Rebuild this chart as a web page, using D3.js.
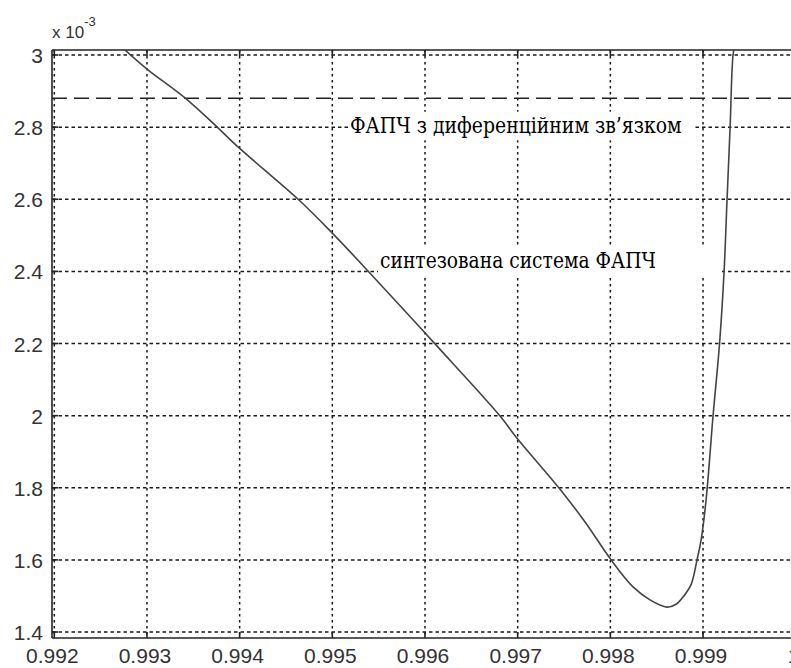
<!DOCTYPE html>
<html>
<head>
<meta charset="utf-8">
<script src="https://cdn.jsdelivr.net/npm/d3@7"></script>
<style>
  html, body { margin: 0; padding: 0; background: #fff; overflow: hidden; }
  svg { display: block; }
  .tick-label { font-family: "Liberation Sans", Arial, sans-serif; font-size: 21px; fill: #333; }
  .note { font-family: "DejaVu Serif", "Liberation Serif", "Times New Roman", Times, serif; fill: #000; }
</style>
</head>
<body>
<svg id="chart" width="791" height="668"></svg>
<script>
// дані
const xTicks = [0.992, 0.993, 0.994, 0.995, 0.996, 0.997, 0.998, 0.999, 1.0];
const xTickLabels = ["0.992", "0.993", "0.994", "0.995", "0.996", "0.997", "0.998", "0.999", "1"];
const yTicks = [1.4, 1.6, 1.8, 2.0, 2.2, 2.4, 2.6, 2.8, 3.0];
const yTickLabels = ["1.4", "1.6", "1.8", "2", "2.2", "2.4", "2.6", "2.8", "3"];

// синтезована система ФАПЧ (x, y·10^-3)
const curveX = [0.992741, 0.993, 0.99341, 0.993766, 0.993982, 0.99464, 0.995, 0.995407,
                0.996108, 0.99681, 0.996982, 0.997457, 0.997727, 0.998008, 0.998245, 0.998428,
                0.998611, 0.998709, 0.998784, 0.998872, 0.998935, 0.998979, 0.999033, 0.999108,
                0.999178, 0.999227, 0.999259, 0.999292, 0.999324, 0.999345];
const curveY = [3.019, 2.961, 2.881, 2.798, 2.745, 2.598, 2.506, 2.395,
                2.199, 1.999, 1.941, 1.796, 1.705, 1.6, 1.525, 1.489,
                1.469, 1.477, 1.497, 1.532, 1.6, 1.655, 1.766, 1.999,
                2.199, 2.398, 2.598, 2.798, 3.0, 3.028];

// ФАПЧ з диференційним зв'язком
const refLevel = 2.88;

const labelTop = "ФАПЧ з диференційним зв’язком";
const labelMid = "синтезована система ФАПЧ";

const svg = d3.select("#chart");

const x = d3.scaleLinear().domain([0.992, 1.0]).range([54.3, 795.7]);
const y = d3.scaleLinear().domain([1.4, 3.0]).range([632, 55]);

const box = { left: 52, top: 50, right: 798, bottom: 638 };

svg.append("defs").append("clipPath").attr("id", "plot-clip")
  .append("rect")
  .attr("x", box.left).attr("y", box.top)
  .attr("width", box.right - box.left).attr("height", box.bottom - box.top);

// сітка
const grid = svg.append("g").attr("stroke", "#1a1a1a").attr("stroke-width", 1.5);
grid.selectAll(".vgrid").data(xTicks).enter().append("line")
  .attr("x1", d => x(d)).attr("x2", d => x(d))
  .attr("y1", box.top).attr("y2", box.bottom)
  .attr("stroke-dasharray", "2.5,3.5");
grid.selectAll(".hgrid").data(yTicks).enter().append("line")
  .attr("x1", box.left).attr("x2", box.right)
  .attr("y1", d => y(d)).attr("y2", d => y(d))
  .attr("stroke-dasharray", "3.5,3");

// рамка і штрихи
const axes = svg.append("g").attr("stroke", "#222").attr("stroke-width", 1.6).attr("fill", "none");
axes.append("line").attr("x1", box.left).attr("x2", box.right).attr("y1", box.top).attr("y2", box.top);
axes.append("line").attr("x1", box.left).attr("x2", box.right).attr("y1", box.bottom).attr("y2", box.bottom);
axes.append("line").attr("x1", box.left).attr("x2", box.left).attr("y1", box.top).attr("y2", box.bottom);
axes.selectAll(".xt").data(xTicks).enter().append("line")
  .attr("x1", d => x(d)).attr("x2", d => x(d))
  .attr("y1", box.bottom).attr("y2", box.bottom - 6);
axes.selectAll(".xt2").data(xTicks).enter().append("line")
  .attr("x1", d => x(d)).attr("x2", d => x(d))
  .attr("y1", box.top).attr("y2", box.top + 6);
axes.selectAll(".yt").data(yTicks).enter().append("line")
  .attr("x1", box.left).attr("x2", box.left + 6)
  .attr("y1", d => y(d)).attr("y2", d => y(d));

// пунктирна лінія рівня
svg.append("line")
  .attr("x1", box.left).attr("x2", box.right)
  .attr("y1", y(refLevel)).attr("y2", y(refLevel))
  .attr("stroke", "#222").attr("stroke-width", 1.5)
  .attr("stroke-dasharray", "15,7");

// крива
const pts = curveX.map((v, i) => [v, curveY[i]]);
const line = d3.line().x(d => x(d[0])).y(d => y(d[1])).curve(d3.curveCatmullRom.alpha(0.5));
svg.append("path")
  .datum(pts)
  .attr("clip-path", "url(#plot-clip)")
  .attr("d", line)
  .attr("fill", "none")
  .attr("stroke", "#444")
  .attr("stroke-width", 1.6);

// підписи з білим тлом (шрифт підганяється під ширину, трохи витягнутий по вертикалі)
function note(text, tx, ty, targetW, boxRight) {
  const g = svg.append("g");
  const r = g.append("rect").attr("fill", "#fff");
  const t = g.append("text")
    .attr("class", "note")
    .attr("x", 0).attr("y", 0)
    .style("font-size", "20px")
    .text(text);
  const w = t.node().getComputedTextLength();
  t.style("font-size", (20 * targetW / w) + "px");
  const sy = 1.15;
  t.attr("transform", `translate(${tx},${ty}) scale(1,${sy})`);
  const bb = t.node().getBBox();
  r.attr("x", tx + bb.x - 2).attr("y", ty + bb.y * sy - 1)
   .attr("width", boxRight - tx - bb.x + 2).attr("height", bb.height * sy + 3);
}
note(labelTop, 350, 133, 332, 694);
note(labelMid, 380, 268, 276, 722);

// підписи осей
svg.selectAll(".xlab").data(xTicks).enter().append("text")
  .attr("class", "tick-label")
  .attr("x", (d, i) => x(d) - 2)
  .attr("y", 663)
  .attr("text-anchor", "middle")
  .text((d, i) => xTickLabels[i]);

svg.selectAll(".ylab").data(yTicks).enter().append("text")
  .attr("class", "tick-label")
  .attr("x", 43)
  .attr("y", d => y(d) + 8)
  .attr("text-anchor", "end")
  .text((d, i) => yTickLabels[i]);

// множник шкали
const mult = svg.append("text").attr("class", "tick-label").attr("x", 52).attr("y", 38).style("font-size", "17px");
mult.append("tspan").text("x 10");
mult.append("tspan").attr("dy", -12).style("font-size", "13px").text("-3");
</script>
</body>
</html>
